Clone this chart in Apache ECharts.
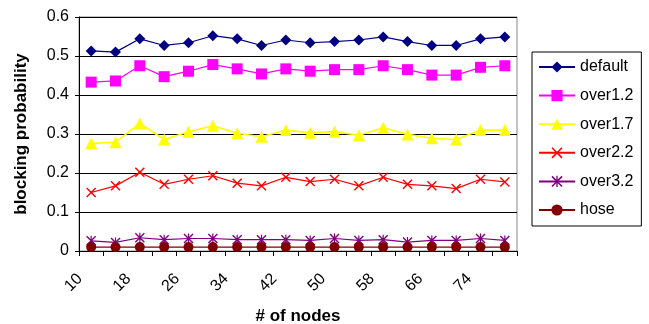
<!DOCTYPE html>
<html>
<head>
<meta charset="utf-8">
<script src="https://cdn.jsdelivr.net/npm/echarts@6/dist/echarts.min.js"></script>
<style>
html,body{margin:0;padding:0;background:#fff;}
#chart{width:649px;height:324px;}
</style>
</head>
<body>
<div id="chart"></div>
<script>
var categories = ['10','14','18','22','26','30','34','38','42','46','50','54','58','62','66','70','74','78'];
var seriesNames = ['default','over1.2','over1.7','over2.2','over3.2','hose'];
var defaultVals = [0.513,0.510,0.544,0.527,0.534,0.552,0.544,0.527,0.541,0.534,0.537,0.541,0.549,0.537,0.527,0.527,0.544,0.549];
var over12Vals = [0.433,0.436,0.475,0.447,0.461,0.478,0.467,0.454,0.467,0.461,0.465,0.465,0.475,0.465,0.451,0.451,0.471,0.475];
var over17Vals = [0.276,0.279,0.327,0.286,0.306,0.321,0.302,0.293,0.310,0.303,0.306,0.297,0.316,0.299,0.289,0.286,0.310,0.310];
var over22Vals = [0.150,0.167,0.202,0.171,0.184,0.193,0.174,0.167,0.189,0.178,0.184,0.167,0.189,0.171,0.167,0.160,0.184,0.177];
var over32Vals = [0.026,0.022,0.034,0.029,0.032,0.032,0.029,0.029,0.029,0.027,0.032,0.027,0.029,0.023,0.027,0.027,0.032,0.027];
var hoseVals = [0.010,0.010,0.010,0.010,0.010,0.010,0.010,0.010,0.010,0.010,0.010,0.010,0.010,0.010,0.010,0.010,0.010,0.010];
var yTicks = [0,0.1,0.2,0.3,0.4,0.5,0.6];

var FONT = "Arial, 'Liberation Sans', sans-serif";
var xPath = 'path://M0,1L1,0L5,4L9,0L10,1L6,5L10,9L9,10L5,6L1,10L0,9L4,5Z';
var starPath = 'path://M4.4,0H5.6V10H4.4Z M0,1L1,0L5,4L9,0L10,1L6,5L10,9L9,10L5,6L1,10L0,9L4,5Z';

function mk(name, data, color, symbol, size, lw) {
  return {
    name: name, type: 'line', data: data,
    symbol: symbol, symbolSize: size,
    lineStyle: {color: color, width: lw},
    itemStyle: {color: color},
    z: 3
  };
}

var chart = echarts.init(document.getElementById('chart'), null, {renderer: 'canvas'});
chart.setOption({
  animation: false,
  backgroundColor: '#fff',
  textStyle: {fontFamily: FONT},
  grid: {left: 79, right: 132, top: 17, bottom: 73, outerBoundsMode: 'none', containLabel: false,
         show: true, borderColor: '#888', borderWidth: 1, backgroundColor: 'transparent'},
  legend: {
    orient: 'vertical', left: 532, top: 52,
    padding: [7, 8, 8, 6],
    itemWidth: 36, itemHeight: 14, itemGap: 12.6,
    borderColor: '#000', borderWidth: 1,
    textStyle: {fontFamily: FONT, fontSize: 16, color: '#000'},
    data: seriesNames
  },
  xAxis: {
    type: 'category', data: categories, boundaryGap: true,
    name: '# of nodes', nameLocation: 'middle', nameGap: 57,
    nameTextStyle: {fontFamily: FONT, fontSize: 17, fontWeight: 'bold', color: '#000'},
    axisLine: {lineStyle: {color: '#000', width: 1}},
    axisTick: {show: true, interval: 0, length: 5, lineStyle: {color: '#000'}},
    axisLabel: {interval: 1, rotate: 45, margin: 14, padding: [0, 16, 0, 0], fontSize: 16, fontFamily: FONT, color: '#000'},
    splitLine: {show: false}
  },
  yAxis: {
    type: 'value', min: yTicks[0], max: yTicks[yTicks.length - 1], interval: 0.1,
    name: 'blocking probability', nameLocation: 'middle', nameGap: 49,
    nameTextStyle: {fontFamily: FONT, fontSize: 17, fontWeight: 'bold', color: '#000'},
    axisLine: {show: true, lineStyle: {color: '#000', width: 1}},
    axisTick: {show: true, length: 4, lineStyle: {color: '#000'}},
    axisLabel: {margin: 10, fontSize: 16, fontFamily: FONT, color: '#000'},
    splitLine: {show: true, lineStyle: {color: '#000', width: 1}}
  },
  series: [
    mk(seriesNames[0], defaultVals, '#000080', 'diamond', 11, 1.2),
    mk(seriesNames[1], over12Vals, '#FF00FF', 'rect', 11, 1.2),
    mk(seriesNames[2], over17Vals, '#FFFF00', 'triangle', 12, 1.6),
    mk(seriesNames[3], over22Vals, '#FF0000', xPath, 10, 1.2),
    mk(seriesNames[4], over32Vals, '#800080', starPath, 10, 1.2),
    mk(seriesNames[5], hoseVals, '#800000', 'circle', 10, 1.2)
  ]
});
</script>
</body>
</html>
